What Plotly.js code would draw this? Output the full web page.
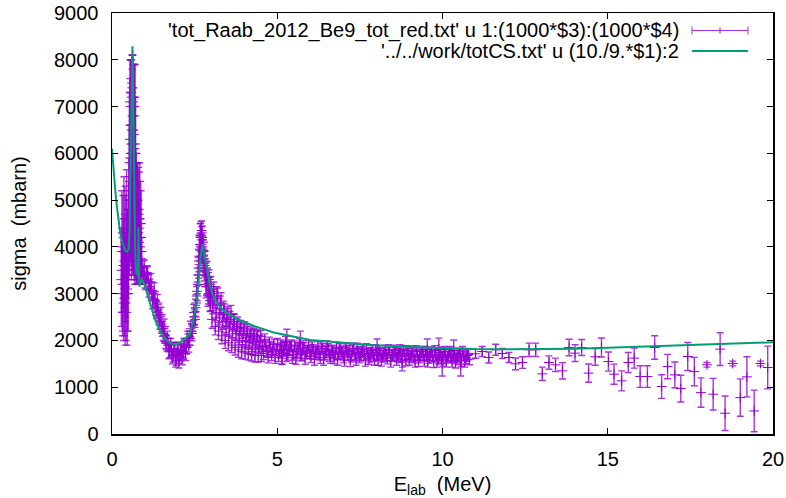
<!DOCTYPE html>
<html>
<head>
<meta charset="utf-8">
<script src="https://cdn.plot.ly/plotly-3.0.1.min.js"></script>
<style>html,body{margin:0;padding:0;background:#fff;}#chart{width:786px;height:498px;}</style>
</head>
<body>
<div id="chart"></div>
<script>
// Measured data: E_lab (MeV), sigma (mbarn), error (mbarn)
const dataE = [
0.28,0.30,0.32,0.34,0.36,0.38,0.40,0.42,0.44,0.46,0.48,0.50,
0.52,0.53,0.54,0.56,0.57,0.58,0.60,0.61,0.62,0.64,0.65,0.66,0.68,0.69,0.70,0.72,0.73,0.74,
0.76,0.78,0.80,0.82,0.84,0.86,0.88,0.90,
0.95,1.00,1.05,1.10,1.15,1.20,1.25,1.30,1.35,1.40,1.45,1.50,1.55,1.60,1.65,1.70,1.75,1.80,1.85,1.90,1.95,2.00,
2.05,2.10,2.15,2.20,2.25,2.30,2.35,2.40,2.45,2.50,
2.53,2.56,2.59,2.62,2.64,2.66,2.68,2.70,2.72,2.74,2.76,2.78,2.80,2.83,2.86,2.89,2.92,2.95,2.98,
3.00,3.05,3.10,3.15,3.20,3.25,3.30,3.35,3.40,3.45,3.50,3.55,3.60,3.65,3.70,3.75,3.80,3.85,3.90,3.95,
4.00,4.05,4.10,4.15,4.20,4.25,4.30,4.35,4.40,4.45,4.50,
4.55,4.62,4.69,4.76,4.83,4.90,4.97,5.04,5.11,5.14,5.18,5.25,5.29,5.32,5.39,5.46,5.53,5.60,5.67,5.70,5.74,5.81,5.88,5.95,
6.02,6.09,6.16,6.23,6.30,6.37,6.44,6.51,6.58,6.65,6.72,6.79,6.86,6.93,7.00,7.07,7.14,7.21,7.28,7.35,7.42,7.49,7.56,7.63,7.70,7.77,7.84,7.91,7.98,
8.02,8.05,8.12,8.19,8.26,8.33,8.40,8.47,8.54,8.61,8.68,8.75,8.78,8.82,8.89,8.96,9.03,9.10,9.17,9.24,9.31,9.38,9.45,9.52,9.54,9.59,9.66,9.73,9.80,9.87,9.89,9.94,9.99,
10.01,10.08,10.15,10.22,10.29,10.34,10.36,10.43,10.50,10.55,10.57,10.64,10.71,10.78,
11.00,11.20,11.40,11.61,11.81,12.01,12.21,12.42,12.62,12.82,13.02,13.22,13.42,13.63,13.83,14.01,14.21,14.42,14.62,14.81,
15.02,15.19,15.42,15.62,15.80,15.98,16.20,16.42,16.63,16.81,17.03,17.21,17.42,17.62,17.82,18.00,18.19,18.40,18.55,18.78,
19.01,19.21,19.43,19.62,19.84
];
const dataSigma = [
3300,3900,3000,3600,4300,3200,2900,3800,4400,3100,3700,4200,
5200,4200,6300,7000,4800,6600,7200,5000,6800,7100,4500,6400,5600,3900,6200,4800,3700,4300,
4500,4800,4300,4100,4600,3900,4200,3700,
3420,3300,3450,3250,3150,3050,2900,2850,2650,2600,2400,2350,2150,2100,1950,1900,1780,1820,1680,1800,1620,1760,
1650,1780,1730,1880,1850,2000,2050,2200,2350,2500,
2700,2950,3200,3550,3800,4050,4200,4250,4150,3950,4100,3750,3600,3400,3200,3350,3000,3150,2850,
3000,2750,2900,2600,2900,2500,2800,2400,2600,2300,2550,2250,2550,2200,2400,2150,2350,2050,2280,2000,
2250,1980,2200,1950,2150,1900,2120,1880,2100,1860,2080,
1880,2010,1760,1950,1700,1920,1800,1680,1900,1720,1780,1950,1980,1700,1860,1640,1880,1760,1920,1950,1690,1840,1730,1890,
1660,1800,1720,1870,1640,1820,1700,1880,1680,1790,1620,1850,1710,1770,1650,1840,1700,1580,1800,1690,1830,1640,1760,1700,1820,1620,1740,1680,1800,
1800,1600,1730,1660,1790,1620,1750,1690,1800,1600,1720,1650,1580,1780,1590,1720,1660,1770,1560,1700,1640,1760,1580,1700,1800,1630,1750,1560,1690,1620,1820,1740,1500,
1580,1700,1640,1760,1560,1780,1680,1620,1720,1480,1570,1690,1630,1700,
1714,1764,1635,1800,1721,1635,1500,1528,1800,1800,1286,1528,1479,1350,1849,1729,1849,1301,1650,1849,
1549,1279,1136,1528,1622,1228,1228,1849,1014,1442,1264,971,1657,1335,885,1479,851,1815,444,1507,
778,1222,493,1507,1421
];
const dataErr = [
1000,1300,900,1000,1200,1100,1000,1300,1250,1200,1100,1200,
1400,800,1300,1000,1200,1400,900,1500,1300,1000,1100,1500,1600,700,1700,1300,500,1000,
1300,1000,1100,900,1200,700,1000,500,
150,180,150,170,160,190,170,160,180,170,160,170,150,160,150,140,150,130,140,150,150,180,
140,130,140,130,140,140,150,160,160,170,
180,200,200,220,250,250,300,300,280,280,200,250,220,250,230,200,220,200,220,
200,180,200,180,220,170,220,160,180,170,170,160,200,150,160,150,150,150,150,140,
150,140,140,140,140,140,140,130,130,130,130,
120,130,120,120,130,110,120,130,110,230,120,140,260,120,110,130,110,120,120,250,130,110,120,110,
130,110,120,110,130,110,120,110,130,110,120,110,120,110,130,110,120,140,110,120,110,120,110,120,110,130,110,120,110,
230,130,110,120,110,120,110,120,100,130,110,120,230,110,130,110,120,110,130,110,120,110,130,110,230,120,110,140,110,120,230,110,260,
130,110,120,110,130,230,110,120,110,240,130,110,120,110,
96,107,118,118,107,107,125,125,143,143,143,143,143,175,175,179,171,196,179,204,
204,214,214,214,214,232,232,250,253,261,275,286,300,304,314,50,339,350,368,50,
400,429,446,50,457
];
// Further measured points interleaved in the dense part of the data set
const denseE = [
0.29,0.31,0.33,0.35,0.37,0.39,0.41,0.43,0.45,0.47,0.49,0.51,
0.525,0.545,0.555,0.565,0.575,0.585,0.595,0.605,0.615,0.625,0.635,0.645,0.655,0.665,0.675,0.685,0.695,0.705,0.715,0.725,0.735,0.745,0.755,
0.77,0.79,0.81,0.83,0.85,0.87,0.89,0.92,
0.975,1.025,1.075,1.125,1.175,1.225,1.275,1.325,1.375,1.425,1.475,1.525,1.575,1.625,1.675,1.725,1.775,1.825,1.875,1.925,1.975,
2.025,2.075,2.125,2.175,2.225,2.275,2.325,2.375,2.425,2.475,
2.515,2.545,2.575,2.605,2.63,2.65,2.67,2.69,2.71,2.73,2.75,2.77,2.79,2.815,2.845,2.875,2.905,2.935,2.965,2.99,
3.025,3.075,3.125,3.175,3.225,3.275,3.325,3.375,3.425,3.475,3.525,3.575,3.625,3.675,3.725,3.775,3.825,3.875,3.925,3.975,
4.025,4.075,4.125,4.175,4.225,4.275,4.325,4.375,4.425,4.475,4.52,
4.585,4.655,4.725,4.795,4.865,4.935,5.005,5.075,5.145,5.215,5.285,5.355,5.425,5.495,5.565,5.635,5.705,5.775,5.845,5.915,5.985,
6.055,6.125,6.195,6.265,6.335,6.405,6.475,6.545,6.615,6.685,6.755,6.825,6.895,6.965,7.035,7.105,7.175,7.245,7.315,7.385,7.455,7.525,7.595,7.665,7.735,7.805,7.875,7.945,
8.015,8.085,8.155,8.225,8.295,8.365,8.435,8.505,8.575,8.645,8.715,8.785,8.855,8.925,8.995,9.065,9.135,9.205,9.275,9.345,9.415,9.485,9.555,9.625,9.695,9.765,9.835,9.905,9.975,
10.045,10.115,10.185,10.255,10.325,10.395,10.465,10.535,10.605,10.675,10.745,10.815
];
const denseSigma = [
3500,3200,4000,2800,3700,4100,3300,3000,3900,3500,3000,4600,
5800,7100,5500,6000,7300,4200,6500,5800,7400,4600,6200,5400,7000,4300,6800,5000,4200,5400,6000,4000,5000,3800,4700,
5000,4000,4700,4400,4000,4500,3900,3550,
3550,3250,3400,3100,3250,2850,3050,2700,2800,2500,2550,2250,2300,1980,2050,1760,1900,1650,1820,1580,1820,
1560,1800,1620,1900,1720,2050,1900,2250,2150,2600,
2450,2800,3050,3400,3700,3950,4250,4000,4350,4200,3800,3900,3500,3700,3150,3450,2950,3300,2850,3150,
2450,3050,2300,2950,2200,2750,2100,2650,2000,2500,1950,2450,1900,2400,1850,2300,1800,2250,1760,2200,
1750,2150,1720,2100,1700,2080,1680,2050,1680,1980,1680,
1720,1900,1650,1860,1800,1640,1920,1760,1620,1860,1680,1800,1900,1700,1620,1830,1700,1880,1620,1780,1730,
1860,1600,1760,1700,1860,1600,1760,1820,1640,1760,1700,1600,1820,1740,1580,1790,1760,1660,1830,1600,1740,1680,1800,1580,1720,1660,1800,1600,
1700,1780,1580,1720,1680,1800,1560,1680,1740,1660,1800,1560,1690,1780,1600,1700,1640,1780,1570,1700,1680,1760,1560,1700,1660,1780,1560,1680,1640,
1760,1560,1680,1640,1720,1540,1660,1700,1760,1560,1680,1600
];
const denseErr = [
900,1000,1100,800,1000,1200,900,1000,1100,1300,800,1300,
1500,900,1800,1500,700,900,1500,2000,700,1200,1700,2000,900,1000,1100,1500,900,1600,1200,700,1000,600,1100,
800,800,1000,1200,800,900,600,200,
170,160,180,170,180,170,180,170,180,170,160,160,160,150,150,150,140,150,140,150,140,
150,140,140,140,150,150,150,160,160,170,
170,180,200,220,230,260,250,280,200,250,250,250,230,220,240,230,220,210,230,220,
190,200,180,200,180,200,170,190,170,180,170,170,160,170,160,160,160,150,150,150,
150,150,140,140,140,140,140,140,140,130,130,
130,120,130,120,120,130,120,120,130,120,130,120,110,120,130,120,120,110,130,120,120,
110,130,120,120,110,130,120,110,130,120,120,130,110,120,130,110,120,120,110,130,120,120,110,130,120,120,110,130,
120,110,130,120,120,110,130,120,110,120,110,130,120,110,130,120,120,110,130,120,120,110,130,120,120,110,130,120,120,
110,130,120,120,110,130,120,120,110,130,120,120
];
// Calculated total cross section curve (totCS.txt)
const curveE = [0,0.05,0.10,0.15,0.20,0.25,0.30,0.35,0.40,0.45,0.50,0.53,0.56,0.59,0.62,0.645,0.67,0.70,0.73,0.76,0.79,0.80,0.81,0.83,0.86,0.90,0.95,1.00,1.10,1.20,1.30,1.40,1.50,1.60,1.70,1.80,1.90,2.00,2.10,2.20,2.30,2.36,2.45,2.57,2.63,2.68,2.74,2.80,2.87,2.97,3.12,3.37,3.78,4.28,4.89,5.50,6.00,7.00,7.82,9.00,10.00,11.00,12.00,13.00,14.00,15.00,16.00,17.00,18.00,19.00,20.00];
const curveSigma = [6100,5600,5200,4850,4550,4300,4120,4000,3920,3890,3950,4300,5500,7500,8290,7000,5000,3900,3480,3400,3500,4420,3600,3150,3250,3300,3250,3150,2900,2650,2450,2280,2150,2040,1970,1930,1920,1940,1980,2030,2100,2143,2400,2850,3350,3800,4065,3750,3564,3136,2850,2636,2458,2314,2171,2080,2010,1950,1900,1860,1835,1815,1810,1812,1825,1845,1865,1885,1910,1935,1960];
const xTicks = [0,5,10,15,20];
const yTicks = [0,1000,2000,3000,4000,5000,6000,7000,8000,9000];
const legendLabels = ["'tot_Raab_2012_Be9_tot_red.txt' u 1:(1000*$3):(1000*$4)", "'../../work/totCS.txt' u (10./9.*$1):2"];

const purple = '#9400d3';
const barColor = 'rgba(148,0,211,0.8)';
const green = '#009e73';
const fontFam = '"Liberation Sans", Arial, sans-serif';

const allE = dataE.concat(denseE);
const allSigma = dataSigma.concat(denseSigma);
const allErr = dataErr.concat(denseErr);

const traces = [
  {
    x: allE, y: allSigma, type: 'scatter', mode: 'markers', name: legendLabels[0],
    marker: {symbol: 'cross-thin-open', size: 7, color: purple, line: {color: purple, width: 1}},
    error_y: {type: 'data', array: allErr, visible: true, color: barColor, thickness: 1.4, width: 3.5},
    showlegend: false
  },
  {
    x: curveE, y: curveSigma, type: 'scatter', mode: 'lines', name: legendLabels[1],
    line: {color: green, width: 2}, showlegend: false
  }
];

const L = 112, R = 773, T = 13, B = 434;
const px2x = p => (p - L) / (R - L);
const py2y = p => (B - p) / (B - T);
const row1 = py2y(30.5), row2 = py2y(51);
const capH = 4 / (B - T);

const layout = {
  width: 786, height: 498,
  margin: {l: 112, r: 13, t: 13, b: 64, pad: 0},
  paper_bgcolor: '#fff', plot_bgcolor: '#fff',
  font: {family: fontFam, size: 20, color: '#000'},
  showlegend: false,
  xaxis: {
    range: [0, 20], tickvals: xTicks, ticktext: xTicks.map(String),
    ticks: 'inside', ticklen: 6, tickwidth: 1, tickcolor: '#000',
    showline: true, linecolor: '#000', linewidth: 1.5, mirror: 'ticks',
    showgrid: false, zeroline: false, ticklabelstandoff: 6,
    tickfont: {family: fontFam, size: 20, color: '#000'},
    title: {text: 'E<sub>lab</sub>&nbsp; (MeV)', font: {family: fontFam, size: 20, color: '#000'}, standoff: 8}
  },
  yaxis: {
    range: [0, 9000], tickvals: yTicks, ticktext: yTicks.map(String),
    ticks: 'inside', ticklen: 6, tickwidth: 1, tickcolor: '#000',
    showline: true, linecolor: '#000', linewidth: 1.5, mirror: 'ticks',
    showgrid: false, zeroline: false, ticklabelstandoff: 8,
    tickfont: {family: fontFam, size: 20, color: '#000'},
    title: {text: 'sigma&nbsp; (mbarn)', font: {family: fontFam, size: 20, color: '#000'}, standoff: 22}
  },
  annotations: [
    {xref: 'paper', yref: 'paper', x: px2x(681), y: row1, xanchor: 'right', yanchor: 'middle', text: legendLabels[0], showarrow: false, font: {family: fontFam, size: 20, color: '#000'}},
    {xref: 'paper', yref: 'paper', x: px2x(681), y: row2, xanchor: 'right', yanchor: 'middle', text: legendLabels[1], showarrow: false, font: {family: fontFam, size: 20, color: '#000'}}
  ],
  shapes: [
    {type: 'line', xref: 'paper', yref: 'paper', x0: px2x(692), x1: px2x(748), y0: row1, y1: row1, line: {color: barColor, width: 1}},
    {type: 'line', xref: 'paper', yref: 'paper', x0: px2x(692), x1: px2x(692), y0: row1 - capH, y1: row1 + capH, line: {color: barColor, width: 1}},
    {type: 'line', xref: 'paper', yref: 'paper', x0: px2x(748), x1: px2x(748), y0: row1 - capH, y1: row1 + capH, line: {color: barColor, width: 1}},
    {type: 'line', xref: 'paper', yref: 'paper', x0: px2x(720), x1: px2x(720), y0: row1 - 0.75 * capH, y1: row1 + 0.75 * capH, line: {color: purple, width: 1}},
    {type: 'line', xref: 'paper', yref: 'paper', x0: px2x(692), x1: px2x(748), y0: row2, y1: row2, line: {color: green, width: 2}}
  ]
};

Plotly.newPlot('chart', traces, layout, {staticPlot: true, displayModeBar: false});
</script>
</body>
</html>
